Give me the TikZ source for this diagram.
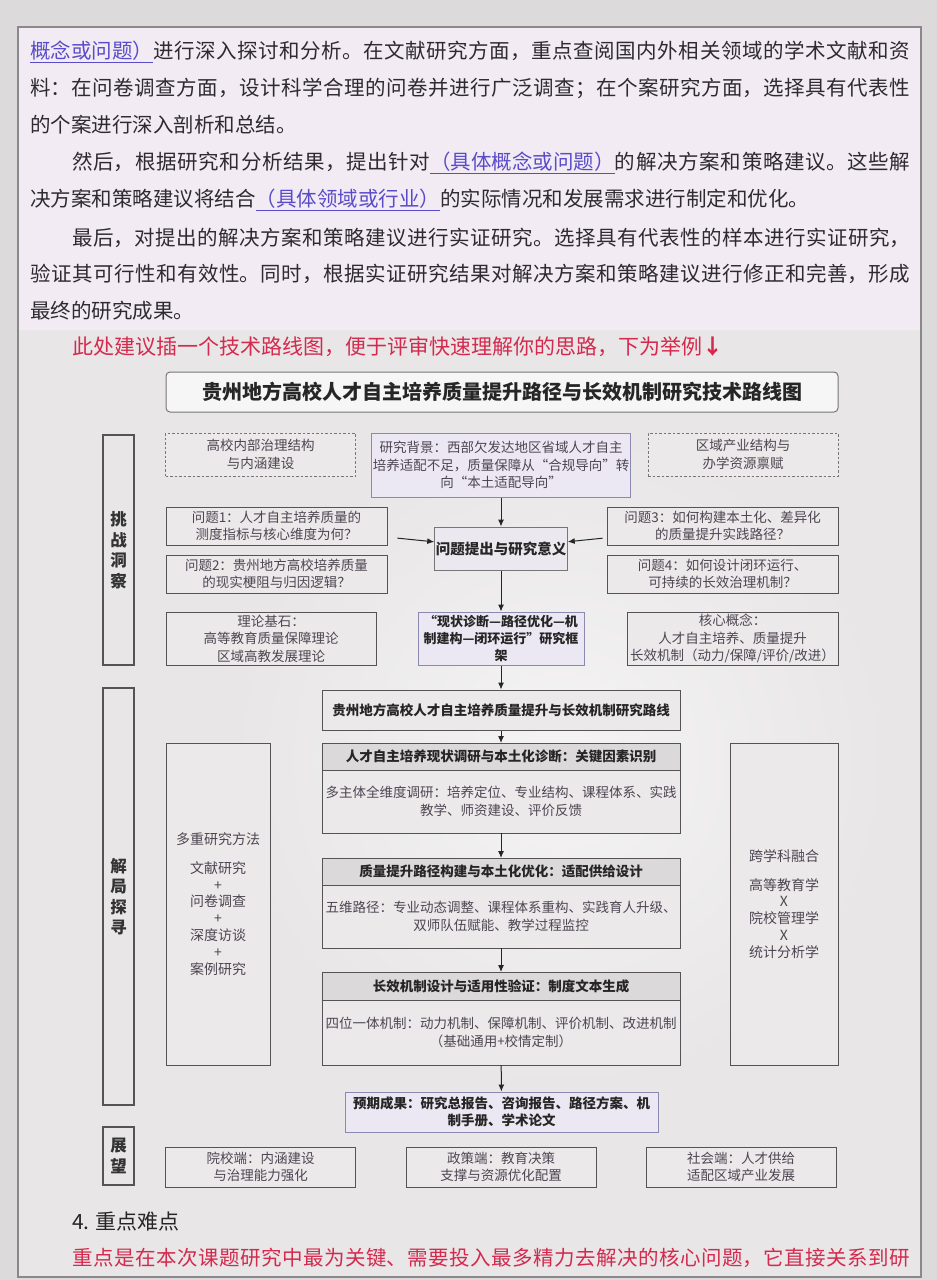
\documentclass[tikz,border=0pt]{standalone}
\usepackage{fontspec}
\setmainfont{Noto Sans CJK SC}
\usetikzlibrary{positioning,arrows.meta}
\XeTeXlinebreaklocale "zh"
\XeTeXlinebreakskip=0pt plus 4pt
\definecolor{outerbg}{HTML}{DCDADB}
\definecolor{pagebg}{HTML}{E8E6E7}
\definecolor{glare}{HTML}{F5F4F5}
\definecolor{textbg}{HTML}{F2EBF4}
\definecolor{frameline}{HTML}{8A888A}
\definecolor{paratext}{HTML}{2E2A30}
\definecolor{linkblue}{HTML}{5A4CC8}
\definecolor{notered}{HTML}{D42A4E}
\definecolor{boxline}{HTML}{555355}
\definecolor{boxfill}{HTML}{EBE9EA}
\definecolor{boxtext}{HTML}{4D4652}
\definecolor{headfill}{HTML}{DCD9DB}
\definecolor{lavfill}{HTML}{ECE8F3}
\definecolor{lavline}{HTML}{8C89B0}
\tikzset{
  flowarrow/.style={-{Latex[length=7pt,width=6pt]}, line width=1pt, draw=black!85},
  paraline/.style={anchor=west, inner sep=0pt, text=paratext, font=\fontsize{20.5}{24}\selectfont},
  boxnode/.style={draw=boxline, line width=1pt, fill=boxfill, align=center, inner sep=1pt, text=boxtext, font=\fontsize{13.5}{17.5}\selectfont},
  ctxnode/.style={boxnode, draw=boxline!80, dash pattern=on 2.5pt off 2pt, minimum width=190pt, minimum height=43pt},
  qnode/.style={boxnode, minimum height=38pt},
  lavnode/.style={boxnode, fill=lavfill, draw=lavline},
  boldnode/.style={boxnode, text=black!85, font=\fontsize{13.5}{17.5}\selectfont\bfseries},
  stagehead/.style={boldnode, fill=headfill, minimum width=358pt, outer sep=0pt},
  stagebody/.style={boxnode, minimum width=358pt, outer sep=0pt},
  sidenode/.style={boxnode, minimum height=322pt, font=\fontsize{14}{16.8}\selectfont},
  sectlabel/.style={draw=boxline, line width=1.1pt, fill=pagebg, minimum width=31pt, inner sep=0pt, align=center, text=black!80, font=\fontsize{16.5}{20.5}\selectfont\bfseries},
  endnode/.style={boxnode, minimum width=190pt, minimum height=40pt}
}
\newcommand{\fullline}[1]{\parbox{880pt}{\parfillskip=0pt\relax #1}}
\newcommand{\indline}[1]{\parbox{838pt}{\parfillskip=0pt\relax #1}}
\newcommand{\linkpart}[1]{\textcolor{linkblue}{\underline{#1}}}

\begin{document}
\begin{tikzpicture}[x=1pt, y=-1pt, >=Latex]
  \useasboundingbox (0,0) rectangle (937,1280);
  % page and paper
  \fill[outerbg] (0,0) rectangle (937,1280);
  \fill[pagebg] (18,27) rectangle (921,1277);
  \shade[inner color=glare, outer color=pagebg] (560,760) circle[radius=330pt];
  \fill[textbg] (18,27) rectangle (921,330);
  \draw[frameline, line width=1.2pt] (18,27) rectangle (921,1277);

  % text above the chart
  \node[paraline] (p1) at (30,52) {\fullline{\linkpart{概念或问题）}进行深入探讨和分析。在文献研究方面，重点查阅国内外相关领域的学术文献和资}};
  \node[paraline] (p2) at (30,88) {\fullline{料：在问卷调查方面，设计科学合理的问卷并进行广泛调查；在个案研究方面，选择具有代表性}};
  \node[paraline] (p3) at (30,125) {的个案进行深入剖析和总结。};
  \node[paraline] (p4) at (72,163) {\indline{然后，根据研究和分析结果，提出针对\linkpart{（具体概念或问题）}的解决方案和策略建议。这些解}};
  \node[paraline] (p5) at (30,200) {决方案和策略建议将结合\linkpart{（具体领域或行业）}的实际情况和发展需求进行制定和优化。};
  \node[paraline] (p6) at (72,238) {\indline{最后，对提出的解决方案和策略建议进行实证研究。选择具有代表性的样本进行实证研究，}};
  \node[paraline] (p7) at (30,274) {\fullline{验证其可行性和有效性。同时，根据实证研究结果对解决方案和策略建议进行修正和完善，形成}};
  \node[paraline] (p8) at (30,311) {最终的研究成果。};
  \node[paraline, text=notered, font=\fontsize{21}{24}\selectfont] (hint) at (72,347) {此处建议插一个技术路线图，便于评审快速理解你的思路，下为举例{\bfseries ↓}};

  % chart
  \node[boxnode, rounded corners=4pt, draw=boxline!80, fill=white!60!boxfill, minimum width=672pt, minimum height=40pt, text=black!85, font=\fontsize{20}{22}\selectfont\bfseries] (title) at (502,392) {贵州地方高校人才自主培养质量提升路径与长效机制研究技术路线图};

  \node[sectlabel, minimum height=230pt] (lab1) at (118.5,550) {挑\\战\\洞\\察};
  \node[sectlabel, minimum height=417pt] (lab2) at (118.5,896.5) {解\\局\\探\\寻};
  \node[sectlabel, minimum height=58pt] (lab3) at (118.5,1156) {展\\望};

  \node[ctxnode] (ctx1) at (260.5,454.5) {高校内部治理结构\\与内涵建设};
  \node[lavnode, minimum width=253pt, minimum height=64pt] (bg) at (501,465) {研究背景：西部欠发达地区省域人才自主\\培养适配不足，质量保障从“合规导向”转\\向“本土适配导向”};
  \node[ctxnode] (ctx2) at (743,454.5) {区域产业结构与\\办学资源禀赋};

  \node[qnode, minimum width=221pt] (q1) at (276.5,526) {问题1：人才自主培养质量的\\测度指标与核心维度为何？};
  \node[qnode, minimum width=221pt] (q2) at (276.5,574) {问题2：贵州地方高校培养质量\\的现实梗阻与归因逻辑？};
  \node[qnode, minimum width=231pt] (q3) at (722.5,526) {问题3：如何构建本土化、差异化\\的质量提升实践路径？};
  \node[qnode, minimum width=231pt] (q4) at (722.5,574) {问题4：如何设计闭环运行、\\可持续的长效治理机制？};
  \node[boldnode, fill=lavfill!60!boxfill, draw=boxline!80, minimum width=127pt, minimum height=43pt, font=\fontsize{14.5}{17.5}\selectfont\bfseries] (prob) at (501,548.5) {问题提出与研究意义};

  \node[boxnode, minimum width=210pt, minimum height=53pt] (theory) at (271,638.5) {理论基石：\\高等教育质量保障理论\\区域高教发展理论};
  \node[boldnode, fill=lavfill, draw=lavline, minimum width=166pt, minimum height=53pt, font=\fontsize{13}{17}\selectfont\bfseries] (frame) at (501,638.5) {“现状诊断—路径优化—机\\制建构—闭环运行”研究框\\架};
  \node[boxnode, minimum width=211pt, minimum height=53pt] (core) at (732.5,638.5) {核心概念：\\人才自主培养、质量提升\\长效机制（动力/保障/评价/改进）};

  \node[boldnode, minimum width=358pt, minimum height=40pt] (route) at (501,710) {贵州地方高校人才自主培养质量提升与长效机制研究路线};

  \node[stagehead, minimum height=27pt] (s1h) at (501,756.5) {人才自主培养现状调研与本土化诊断：关键因素识别};
  \node[stagebody, minimum height=63pt, below=0pt of s1h] (s1b) {多主体全维度调研：培养定位、专业结构、课程体系、实践\\教学、师资建设、评价反馈};
  \node[stagehead, minimum height=27pt] (s2h) at (501,871.5) {质量提升路径构建与本土化优化：适配供给设计};
  \node[stagebody, minimum height=63pt, below=0pt of s2h] (s2b) {五维路径：专业动态调整、课程体系重构、实践育人升级、\\双师队伍赋能、教学过程监控};
  \node[stagehead, minimum height=28pt] (s3h) at (501,986) {长效机制设计与适用性验证：制度文本生成};
  \node[stagebody, minimum height=65pt, below=0pt of s3h] (s3b) {四位一体机制：动力机制、保障机制、评价机制、改进机制\\（基础通用+校情定制）};

  \node[boldnode, fill=lavfill, draw=lavline, minimum width=313pt, minimum height=40pt] (out) at (501.5,1112) {预期成果：研究总报告、咨询报告、路径方案、机\\制手册、学术论文};

  \node[sidenode, minimum width=104pt] (meth) at (218,904) {多重研究方法\\[12pt]文献研究\\+\\问卷调查\\+\\深度访谈\\+\\案例研究};
  \node[sidenode, minimum width=108pt] (disc) at (784,904) {跨学科融合\\[12pt]高等教育学\\X\\院校管理学\\X\\统计分析学};

  \node[endnode] (end1) at (260.5,1167) {院校端：内涵建设\\与治理能力强化};
  \node[endnode] (end2) at (501,1167) {政策端：教育决策\\支撑与资源优化配置};
  \node[endnode] (end3) at (741,1167) {社会端：人才供给\\适配区域产业发展};

  \draw[flowarrow] (bg) -- (prob);
  \draw[flowarrow, shorten <=10pt] (q1) -- (prob);
  \draw[flowarrow, shorten <=4pt] (q3) -- (prob);
  \draw[flowarrow] (prob) -- (frame);
  \draw[flowarrow] (frame) -- (route);
  \draw[flowarrow] (route) -- (s1h);
  \draw[flowarrow] (s1b) -- (s2h);
  \draw[flowarrow] (s2b) -- (s3h);
  \draw[flowarrow] (s3b) -- (out);

  % text below the chart
  \node[paraline, text=black!85, font=\fontsize{21}{24}\selectfont] (sec4) at (72,1222) {4. 重点难点};
  \node[paraline, text=notered] (p9) at (72,1258) {\indline{重点是在本次课题研究中最为关键、需要投入最多精力去解决的核心问题，它直接关系到研}};
\end{tikzpicture}
\end{document}
